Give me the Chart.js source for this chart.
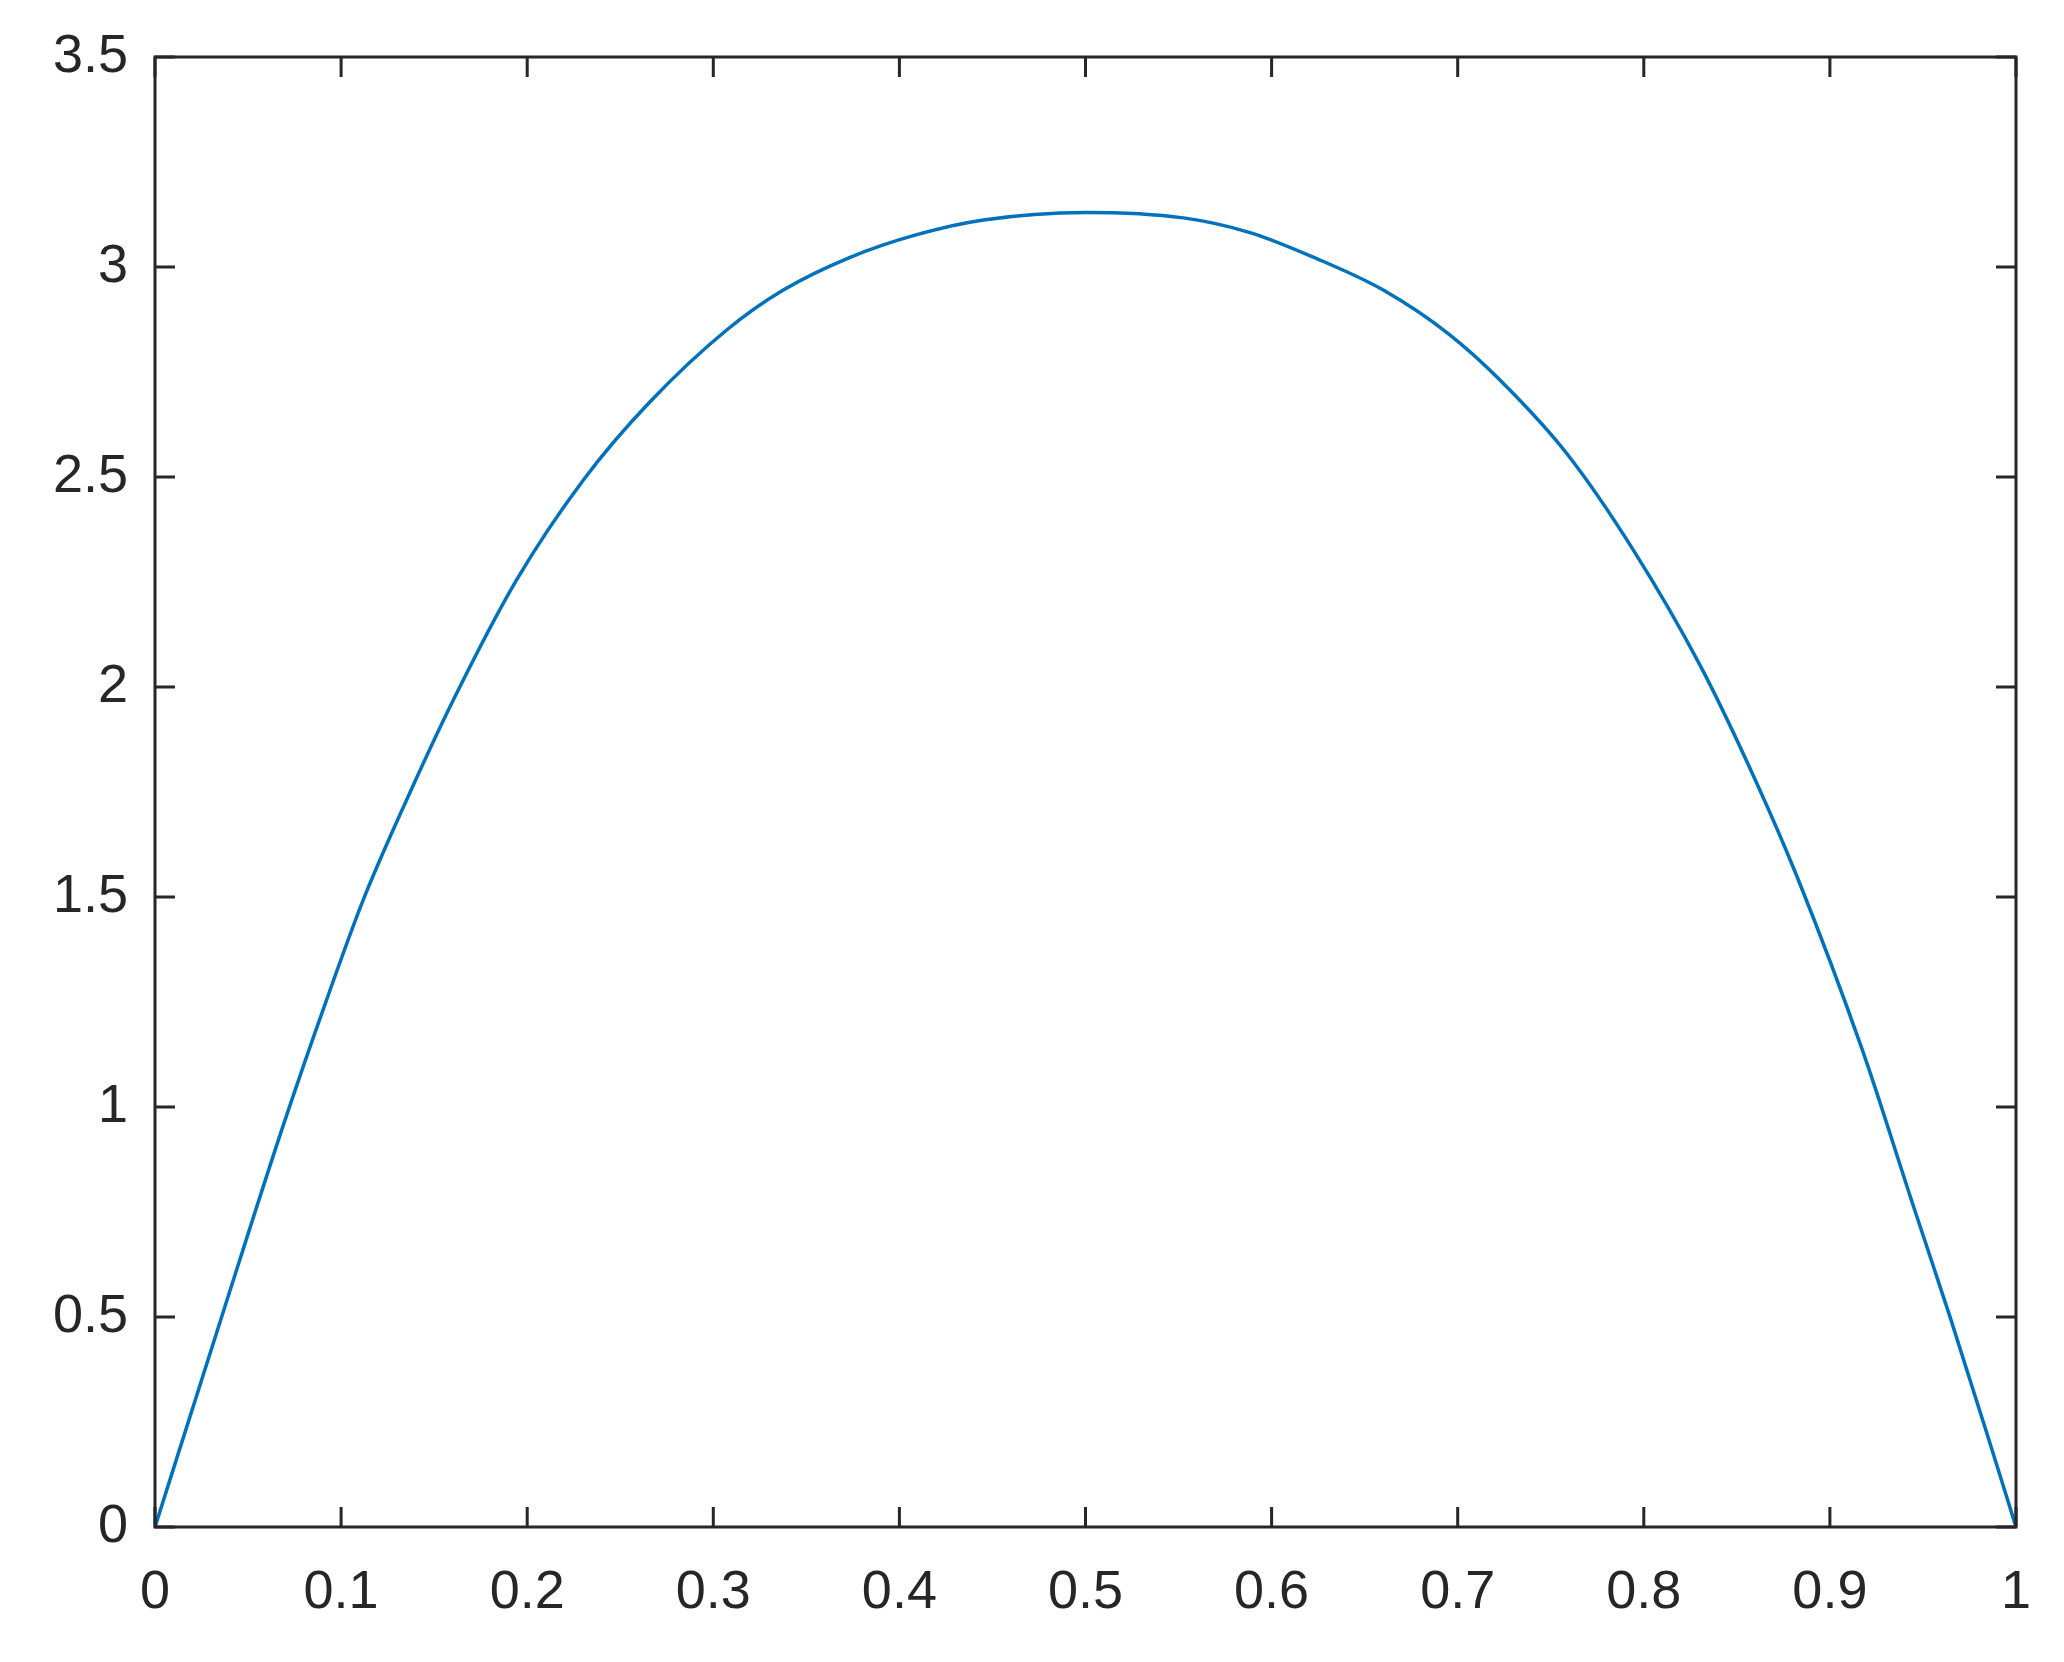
<!DOCTYPE html>
<html>
<head>
<meta charset="utf-8">
<script src="https://cdn.jsdelivr.net/npm/chart.js@4/dist/chart.umd.min.js"></script>
<style>
  html, body { margin: 0; padding: 0; background: #ffffff; }
  #wrap { width: 2064px; height: 1662px; }
</style>
</head>
<body>
<div id="wrap"><canvas id="canvas-myChart" width="2064" height="1662"></canvas></div>
<script>
// values
const xValues = [0, 0.0358, 0.0686, 0.0922, 0.1119, 0.1352, 0.1603, 0.1943, 0.2302, 0.266,
  0.3072, 0.3376, 0.3735, 0.4093, 0.4451, 0.5, 0.5526, 0.5884, 0.6242,
  0.66, 0.6959, 0.7227, 0.7586, 0.7944, 0.8302, 0.8607, 0.8822, 0.9171, 0.9448,
  0.9645, 0.9869, 1.0];
const yValues = [0, 0.5, 0.952, 1.255, 1.493, 1.731, 1.969, 2.255, 2.493, 2.679,
  2.85, 2.945, 3.023, 3.077, 3.112, 3.13, 3.117, 3.082, 3.02,
  2.945, 2.838, 2.731, 2.556, 2.326, 2.052, 1.771, 1.55, 1.14, 0.765,
  0.501, 0.187, 0];

const xTickStep = 0.1;
const yTickStep = 0.5;

const axisColor = "#262626";
const lineColor = "#0072BD";

const points = xValues.map((x, i) => ({ x: x, y: yValues[i] }));

// MATLAB-style box with inward ticks on all four sides
const boxPlugin = {
  id: "boxPlugin",
  afterDraw(chart) {
    const ctx = chart.ctx;
    const area = chart.chartArea;
    const xs = chart.scales.x;
    const ys = chart.scales.y;
    const tickLen = 20;
    ctx.save();
    ctx.strokeStyle = axisColor;
    ctx.lineWidth = 3;
    ctx.beginPath();
    xs.ticks.forEach((t) => {
      const px = xs.getPixelForValue(t.value);
      ctx.moveTo(px, area.bottom);
      ctx.lineTo(px, area.bottom - tickLen);
      ctx.moveTo(px, area.top);
      ctx.lineTo(px, area.top + tickLen);
    });
    ys.ticks.forEach((t) => {
      const py = ys.getPixelForValue(t.value);
      ctx.moveTo(area.left, py);
      ctx.lineTo(area.left + tickLen, py);
      ctx.moveTo(area.right, py);
      ctx.lineTo(area.right - tickLen, py);
    });
    ctx.stroke();
    ctx.strokeRect(area.left, area.top, area.right - area.left, area.bottom - area.top);
    ctx.restore();
  },
};

function plainNumber(value) {
  return String(Math.round(value * 100) / 100);
}

function initChart() {
  const ctx = document.getElementById("canvas-myChart").getContext("2d");
  const tickFont = { family: "'Liberation Sans', Arial, sans-serif", size: 54 };

  new Chart(ctx, {
    type: "scatter",
    data: {
      datasets: [
        {
          data: points,
          showLine: true,
          borderColor: lineColor,
          borderWidth: 3.5,
          pointRadius: 0,
          fill: false,
          cubicInterpolationMode: "monotone",
        },
      ],
    },
    options: {
      responsive: false,
      animation: false,
      devicePixelRatio: 1,
      layout: { padding: { left: 0, top: 57, right: 48, bottom: 0 } },
      plugins: {
        legend: { display: false },
        tooltip: { enabled: false },
      },
      scales: {
        x: {
          type: "linear",
          min: 0,
          max: 1,
          ticks: { stepSize: xTickStep, color: axisColor, font: tickFont, padding: 34, maxRotation: 0, callback: plainNumber },
          grid: { drawOnChartArea: false, drawTicks: false },
          border: { display: false },
          afterFit(scale) {
            scale.height = 135;
            scale.paddingLeft = 0;
            scale.paddingRight = 0;
          },
        },
        y: {
          type: "linear",
          min: 0,
          max: 3.5,
          ticks: { stepSize: yTickStep, color: axisColor, font: tickFont, padding: 27, callback: plainNumber },
          grid: { drawOnChartArea: false, drawTicks: false },
          border: { display: false },
          afterFit(scale) {
            scale.width = 155;
            scale.paddingTop = 0;
            scale.paddingBottom = 0;
          },
        },
      },
    },
    plugins: [boxPlugin],
  });
}

initChart();
</script>
</body>
</html>
